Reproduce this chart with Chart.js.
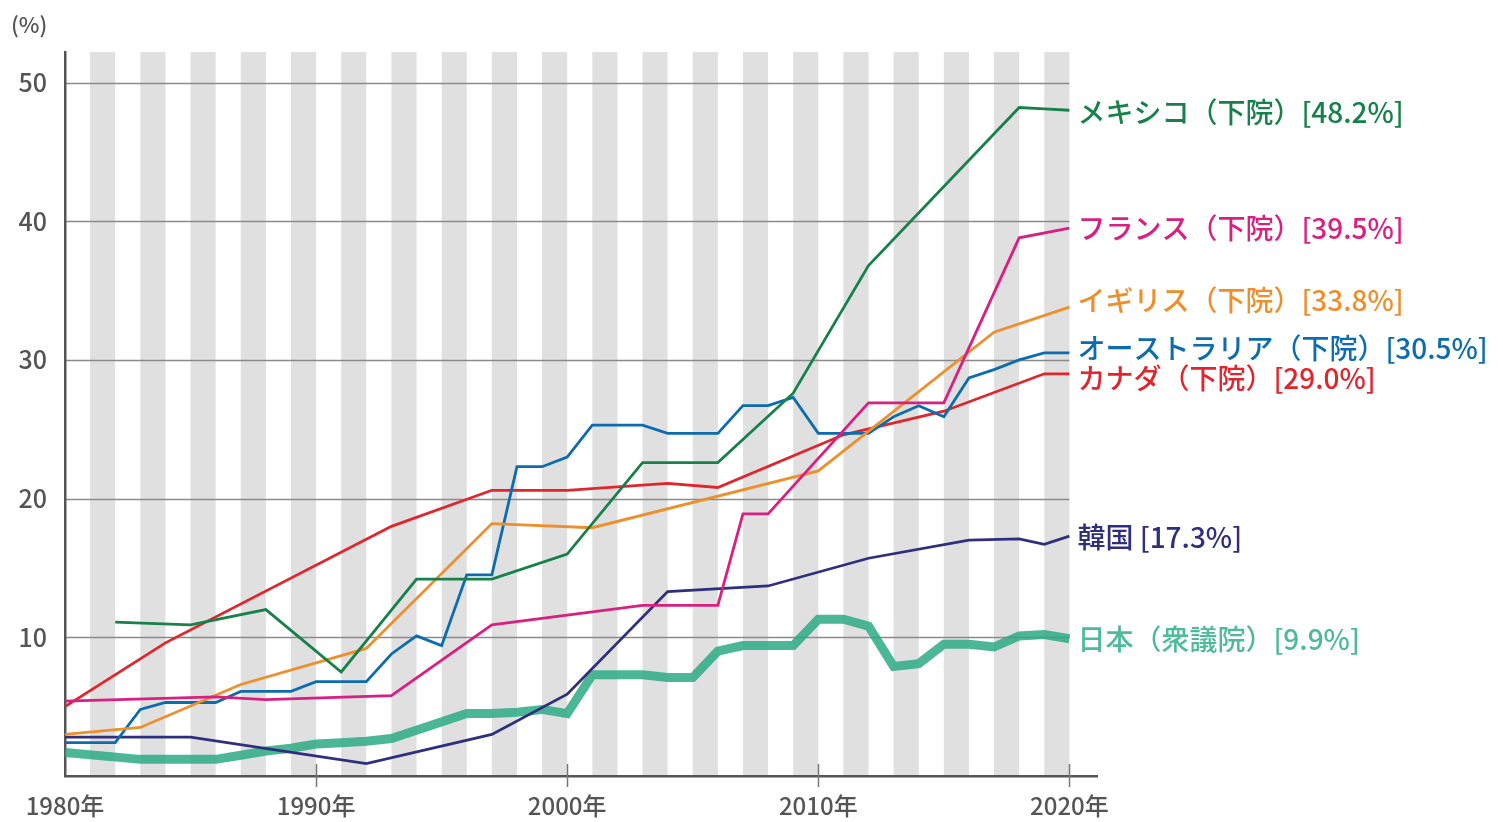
<!DOCTYPE html>
<html lang="ja">
<head>
<meta charset="utf-8">
<title>女性議員比率の推移</title>
<script src="https://cdn.jsdelivr.net/npm/chart.js@4.4.1/dist/chart.umd.min.js"></script>
<style>
  html, body { margin: 0; padding: 0; background: #fff; }
  canvas { display: block; }
</style>
</head>
<body>
<canvas id="chart" width="1503" height="822"></canvas>
<script>
// ── DATA ──────────────────────────────────────────────────────────────────────

const YEARS = [1980, 1981, 1982, 1983, 1984, 1985, 1986, 1987, 1988, 1989,
               1990, 1991, 1992, 1993, 1994, 1995, 1996, 1997, 1998, 1999,
               2000, 2001, 2002, 2003, 2004, 2005, 2006, 2007, 2008, 2009,
               2010, 2011, 2012, 2013, 2014, 2015, 2016, 2017, 2018, 2019, 2020];

const X_TICKS = [1980, 1990, 2000, 2010, 2020];
const Y_TICKS = [10, 20, 30, 40, 50];

// null = straight segment between the readings on each side
const MEXICO    = [null, null, 11.1, null, null, 10.9, null, null, 12.0, null, null, 7.5, null, null, 14.2, null, null, 14.2, null, null, 16.0, null, null, 22.6, null, null, 22.6, null, null, 27.6, null, null, 36.8, null, null, null, null, null, 48.2, 48.1, 48.0];
const FRANCE    = [5.4, null, null, null, null, null, 5.7, null, 5.5, null, null, null, null, 5.8, null, null, null, 10.9, null, null, null, null, null, 12.3, null, null, 12.3, 18.9, 18.9, null, null, null, 26.9, null, null, 26.9, null, null, 38.8, null, 39.5];
const UK        = [3.0, null, null, 3.5, null, null, null, 6.6, null, null, null, null, 9.2, null, null, null, null, 18.2, null, null, null, 17.9, null, null, null, null, null, null, null, null, 22.0, null, null, null, null, null, null, 32.0, null, null, 33.8];
const AUSTRALIA = [2.4, 2.4, 2.4, 4.8, 5.3, 5.3, 5.3, 6.1, 6.1, 6.1, 6.8, 6.8, 6.8, 8.8, 10.1, 9.4, 14.5, 14.5, 22.3, 22.3, 23.0, 25.3, 25.3, 25.3, 24.7, 24.7, 24.7, 26.7, 26.7, 27.3, 24.7, 24.7, 24.7, 25.9, 26.7, 25.9, 28.7, 29.3, 30.0, 30.5, 30.5];
const CANADA    = [5.0, null, null, null, 9.6, null, null, null, null, null, null, null, null, 18.0, null, null, null, 20.6, null, null, 20.6, null, null, null, 21.1, null, 20.8, null, null, null, null, 24.6, null, null, null, 26.3, null, null, null, 29.0, 29.0];
const KOREA     = [2.8, null, null, null, null, 2.8, null, null, null, null, null, null, 0.9, null, null, null, null, 3.0, null, null, 5.9, null, null, null, 13.3, null, null, null, 13.7, null, null, null, 15.7, null, null, null, 17.0, null, 17.1, 16.7, 17.3];
const JAPAN     = [1.7, null, null, 1.2, 1.2, 1.2, 1.2, 1.5, 1.8, 2.0, 2.3, 2.4, 2.5, 2.7, null, null, 4.5, 4.5, 4.6, 4.8, 4.5, 7.3, 7.3, 7.3, 7.1, 7.1, 9.0, 9.4, 9.4, 9.4, 11.3, 11.3, 10.8, 7.9, 8.1, 9.5, 9.5, 9.3, 10.1, 10.2, 9.9];

const SERIES_VALUES = [MEXICO, FRANCE, UK, AUSTRALIA, CANADA, KOREA, JAPAN];
const SERIES_LABELS = [
  'メキシコ（下院）[48.2%]',
  'フランス（下院）[39.5%]',
  'イギリス（下院）[33.8%]',
  'オーストラリア（下院）[30.5%]',
  'カナダ（下院）[29.0%]',
  '韓国 [17.3%]',
  '日本（衆議院）[9.9%]',
];

// ── STYLE ─────────────────────────────────────────────────────────────────────

const LINE_COLORS  = ['#18804a', '#da1f82', '#ee8f2d', '#0c6cae', '#e1252d', '#2f2f7e', 'rgba(44,170,130,0.85)'];
const LABEL_COLORS = ['#18804a', '#da1f82', '#ee8f2d', '#0c6cae', '#e1252d', '#2f2f7e', '#4dba9a'];
const LINE_WIDTHS  = [2.8, 2.8, 2.8, 2.8, 2.8, 2.8, 9];
const LABEL_NUDGE  = [2, 0, -7, -5, 5, 1, 1];   // px, keeps close labels apart

const AXIS_COLOR = '#555';
const GRID_COLOR = '#8a8a8a';
const STRIPE_COLOR = '#e0e0e0';
const FONT = '"Noto Sans CJK JP", "Noto Sans", sans-serif';

// ── PLUGINS ───────────────────────────────────────────────────────────────────

const backdrop = {
  id: 'backdrop',
  beforeDraw(chart) {
    const { ctx, chartArea: a, scales: { x, y } } = chart;
    const first = YEARS[0], last = YEARS[YEARS.length - 1];
    ctx.save();
    ctx.fillStyle = STRIPE_COLOR;
    for (let yr = first + 1; yr < last; yr += 2) {
      const x0 = x.getPixelForValue(yr), x1 = x.getPixelForValue(yr + 1);
      ctx.fillRect(x0, a.top, x1 - x0, a.bottom - a.top);
    }
    ctx.strokeStyle = GRID_COLOR;
    ctx.lineWidth = 1.5;
    Y_TICKS.forEach(v => {
      const py = Math.round(y.getPixelForValue(v)) + 0.5;
      ctx.beginPath();
      ctx.moveTo(a.left, py);
      ctx.lineTo(x.getPixelForValue(last), py);
      ctx.stroke();
    });
    ctx.restore();
  },
  afterDraw(chart) {
    const { ctx, chartArea: a, scales: { x } } = chart;
    ctx.save();
    ctx.strokeStyle = '#777';
    ctx.lineWidth = 1.5;
    X_TICKS.slice(1).forEach(v => {
      const px = Math.round(x.getPixelForValue(v)) + 0.5;
      ctx.beginPath();
      ctx.moveTo(px, a.bottom - 12);
      ctx.lineTo(px, a.bottom + 11);
      ctx.stroke();
    });
    ctx.fillStyle = AXIS_COLOR;
    ctx.font = '500 22px ' + FONT;
    ctx.textBaseline = 'middle';
    ctx.textAlign = 'left';
    ctx.fillText('(%)', 11, 25);
    ctx.restore();
  },
};

const endLabels = {
  id: 'endLabels',
  afterDatasetsDraw(chart) {
    const { ctx, scales: { x, y } } = chart;
    ctx.save();
    ctx.font = '500 28px ' + FONT;
    ctx.textBaseline = 'middle';
    ctx.textAlign = 'left';
    SERIES_VALUES.forEach((vals, i) => {
      const lastVal = vals[vals.length - 1];
      const px = x.getPixelForValue(YEARS[YEARS.length - 1]) + 8;
      const py = y.getPixelForValue(lastVal) + LABEL_NUDGE[i];
      ctx.fillStyle = LABEL_COLORS[i];
      ctx.fillText(SERIES_LABELS[i], px, py);
    });
    ctx.restore();
  },
};

// ── CHART ─────────────────────────────────────────────────────────────────────

const datasets = SERIES_VALUES.map((vals, i) => ({
  label: SERIES_LABELS[i],
  data: YEARS.map((yr, j) => ({ x: yr, y: vals[j] })),
  borderColor: LINE_COLORS[i],
  backgroundColor: LINE_COLORS[i],
  borderWidth: LINE_WIDTHS[i],
  borderJoinStyle: 'miter',
  pointRadius: 0,
  tension: 0,
  spanGaps: true,
  fill: false,
}));

new Chart(document.getElementById('chart'), {
  type: 'line',
  data: { datasets },
  plugins: [backdrop, endLabels],
  options: {
    responsive: false,
    animation: false,
    layout: { padding: { top: 52, right: 406, left: 0, bottom: 0 } },
    plugins: { legend: { display: false }, tooltip: { enabled: false } },
    scales: {
      x: {
        type: 'linear',
        min: 1980,
        max: 2021.1,
        afterBuildTicks: s => { s.ticks = X_TICKS.map(v => ({ value: v })); },
        afterFit: s => { s.height = 46; },
        grid: { drawOnChartArea: false, drawTicks: false },
        border: { color: AXIS_COLOR, width: 2.5 },
        ticks: {
          callback: v => v + '年',
          color: AXIS_COLOR,
          font: { family: FONT, size: 24, weight: '500' },
          padding: 15,
          maxRotation: 0,
          autoSkip: false,
        },
      },
      y: {
        min: 0,
        max: 52.2,
        afterBuildTicks: s => { s.ticks = Y_TICKS.map(v => ({ value: v })); },
        afterFit: s => { s.width = 65; },
        grid: { drawOnChartArea: false, drawTicks: false },
        border: { color: AXIS_COLOR, width: 2.5 },
        ticks: {
          color: AXIS_COLOR,
          font: { family: FONT, size: 25, weight: '500' },
          padding: 18,
        },
      },
    },
  },
});
</script>
</body>
</html>
